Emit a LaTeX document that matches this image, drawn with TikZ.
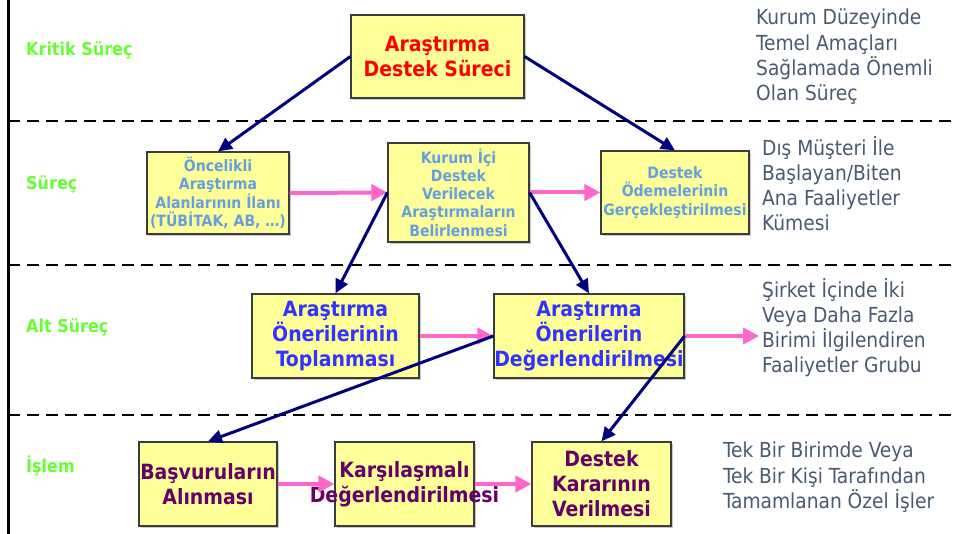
\documentclass[tikz,border=0pt]{standalone}
\usepackage{fontspec}
\setmainfont{DejaVu Sans Condensed}
\usetikzlibrary{arrows.meta,shadows}

\definecolor{boxfill}{RGB}{255,255,153}
\definecolor{boxline}{RGB}{60,60,60}
\definecolor{navyline}{RGB}{0,0,128}
\definecolor{pinkline}{RGB}{255,102,204}
\definecolor{levelgreen}{RGB}{102,255,51}
\definecolor{notegray}{RGB}{74,90,112}
\definecolor{lightblue}{RGB}{102,160,220}
\definecolor{strongblue}{RGB}{51,51,255}
\definecolor{darkpurple}{RGB}{102,0,102}

\tikzset{
  box/.style={draw=boxline, line width=1.2pt, fill=boxfill, inner sep=0pt,
    align=center,
    drop shadow={shadow xshift=2pt, shadow yshift=-2pt, fill=black!22, opacity=1}},
  flow/.style={navyline, line width=3pt, -{Triangle[length=14pt,width=13pt]}},
  link/.style={pinkline, line width=4pt, -{Triangle[length=16pt,width=16pt]}},
  level/.style={levelgreen, font=\bfseries\fontsize{17.8}{20}\selectfont, anchor=west, inner sep=0pt},
  note/.style={notegray, font=\fontsize{20.7}{25.2}\selectfont, align=left,
    anchor=north west, inner sep=0pt},
  separator/.style={dash pattern=on 12pt off 7pt, line width=2.5pt},
  small/.style={text=lightblue, font=\bfseries\fontsize{15.6}{18.3}\selectfont},
  mid/.style={text=strongblue, font=\bfseries\fontsize{21}{25}\selectfont},
  low/.style={text=darkpurple, font=\bfseries\fontsize{21}{25}\selectfont},
}

\begin{document}
\begin{tikzpicture}[x=1pt, y=-1pt]
  \useasboundingbox[fill=white] (0,0) rectangle (954,534);

  % frame: left rule and level separators
  \draw[line width=3pt] (8,0) -- (8,534);
  \draw[separator] (8,121) -- (954,121);
  \draw[separator] (8,265) -- (954,265);
  \draw[separator] (8,415) -- (954,415);

  % level names
  \node[level] (lv1) at (26,50) {Kritik Süreç};
  \node[level] (lv2) at (26,184) {Süreç};
  \node[level] (lv3) at (26,327) {Alt Süreç};
  \node[level] (lv4) at (26,466) {İşlem};

  % level descriptions
  \node[note] (d1) at (756,9) {Kurum Düzeyinde\\Temel Amaçları\\Sağlamada Önemli\\Olan Süreç};
  \node[note] (d2) at (762,136) {Dış Müşteri İle\\Başlayan/Biten\\Ana Faaliyetler\\Kümesi};
  \node[note] (d3) at (762,278) {Şirket İçinde İki\\Veya Daha Fazla\\Birimi İlgilendiren\\Faaliyetler Grubu};
  \node[note] (d4) at (723,442) {Tek Bir Birimde Veya\\Tek Bir Kişi Tarafından\\Tamamlanan Özel İşler};

  % critical process
  \node[box, minimum width=173pt, minimum height=83pt, text=red,
    font=\bfseries\fontsize{21}{25}\selectfont] (core) at (437.5,56.5) {Araştırma\\Destek Süreci};

  % processes
  \node[box, small, minimum width=142pt, minimum height=82pt] (oncel) at (218,193)
    {Öncelikli\\Araştırma\\Alanlarının İlanı\\(TÜBİTAK, AB, …)};
  \node[box, small, minimum width=141pt, minimum height=99pt] (kurum) at (458.5,192.5)
    {Kurum İçi\\Destek\\Verilecek\\Araştırmaların\\Belirlenmesi};
  \node[box, small, minimum width=148pt, minimum height=83pt] (odeme) at (675,192.5)
    {Destek\\Ödemelerinin\\Gerçekleştirilmesi};

  % sub-processes
  \node[box, mid, minimum width=167pt, minimum height=84pt] (topla) at (335.5,336)
    {Araştırma\\Önerilerinin\\Toplanması};
  \node[box, mid, minimum width=190pt, minimum height=84pt] (degr) at (589,336)
    {Araştırma\\Önerilerin\\Değerlendirilmesi};

  % tasks
  \node[box, low, minimum width=138pt, minimum height=84pt] (basv) at (208,484)
    {Başvuruların\\Alınması};
  \node[box, minimum width=139pt, minimum height=84pt] (kars) at (404.5,484) {};
  \node[low, align=center, inner sep=0pt] (karstext) at (kars) {Karşılaşmalı\\Değerlendirilmesi};
  \node[box, low, minimum width=139pt, minimum height=84pt] (karar) at (601.5,484)
    {Destek\\Kararının\\Verilmesi};

  \coordinate (out) at (759,336);

  % sequence links
  \draw[link] (oncel.east) -- (kurum.west);
  \draw[link] (kurum.east) -- (odeme.west);
  \draw[link] (topla.east) -- (degr.west);
  \draw[link] (degr.east) -- (out);
  \draw[link] (basv.east) -- (kars.west);
  \draw[link] (kars.east) -- (karar.west);

  % decomposition links
  \draw[flow] (core.west) -- (oncel.north);
  \draw[flow] (core.east) -- (odeme.north);
  \draw[flow] (kurum.west) -- (topla.north);
  \draw[flow] (kurum.east) -- (degr.north);
  \draw[flow] (degr.west) -- (basv.north);
  \draw[flow] (degr.east) -- (karar.north);
\end{tikzpicture}
\end{document}
